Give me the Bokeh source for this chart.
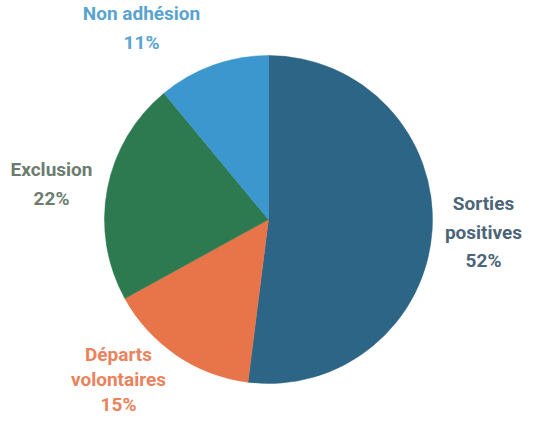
import math
from bokeh.plotting import figure
from bokeh.models import ColumnDataSource, Range1d
from bokeh.core.properties import value
from bokeh.embed import file_html
from bokeh.resources import INLINE

# Data
categories = ["Sorties positives", "Départs volontaires", "Exclusion", "Non adhésion"]
label_lines = [["Sorties", "positives"], ["Départs", "volontaires"], ["Exclusion"], ["Non adhésion"]]
shares = [52, 15, 22, 11]

# Styles
slice_colors = ["#2D6586", "#E8744A", "#2E7A50", "#3B97CE"]
text_colors = ["#4C6579", "#EB825C", "#6C7D70", "#5AA3D0"]

W, H = 526, 423
cx, cy, R = 268, 219, 164
# label anchors (x, y of first line measured from top) and line gaps
label_pos = [(483, 203), (118, 354), (51, 169), (141, 13)]
line_gaps = [28.5, 25, 29, 29]

p = figure(width=W, height=H, output_backend="svg", toolbar_location=None,
           x_range=Range1d(0, W), y_range=Range1d(0, H), min_border=0)
p.axis.visible = False
p.grid.visible = False
p.outline_line_color = None
p.background_fill_color = "white"

total = sum(shares)
start_angles, end_angles = [], []
acc = 0.0
for s in shares:
    a0 = math.pi / 2 - 2 * math.pi * acc / total
    acc += s
    a1 = math.pi / 2 - 2 * math.pi * acc / total
    start_angles.append(a1)
    end_angles.append(a0)

src = ColumnDataSource(dict(cat=categories, val=shares, start=start_angles, end=end_angles,
                            color=slice_colors, x=[cx] * 4, y=[H - cy] * 4))
p.wedge(x="x", y="y", radius=R, start_angle="start", end_angle="end",
        fill_color="color", line_color="color", line_width=0.5, source=src)

xs, ys, txt, cols = [], [], [], []
for i, lines in enumerate(label_lines):
    lx, ly = label_pos[i]
    all_lines = lines + [f"{shares[i]}%"]
    for j, t in enumerate(all_lines):
        xs.append(lx)
        ys.append(H - (ly + j * line_gaps[i]))
        txt.append(t)
        cols.append(text_colors[i])

p.text(x=xs, y=ys, text=txt, text_color=cols, text_align="center", text_baseline="middle",
       text_font=value("Roboto"), text_font_style="bold", text_font_size="19px")

open("out.html", "w").write(file_html(p, INLINE))
